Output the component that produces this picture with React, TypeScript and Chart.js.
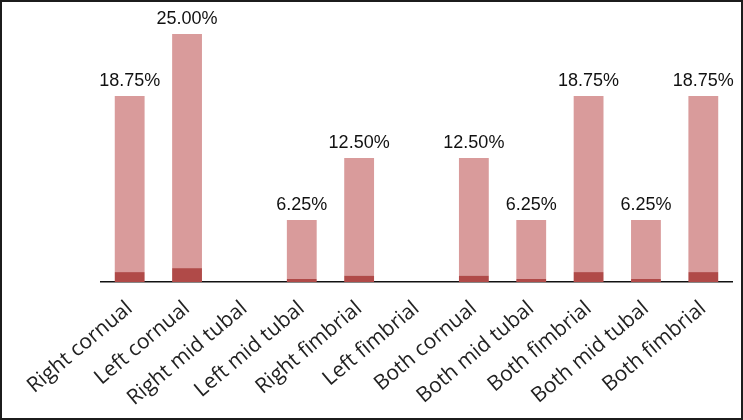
import React, { useEffect, useRef } from "react";
import { Chart, registerables } from "chart.js";

Chart.register(...registerables);

const categories = [
  "Right cornual",
  "Left cornual",
  "Right mid tubal",
  "Left mid tubal",
  "Right fimbrial",
  "Left fimbrial",
  "Both cornual",
  "Both mid tubal",
  "Both fimbrial",
  "Both mid tubal",
  "Both fimbrial",
];

// total percentage of each bar (shown as label)
const totalValues = [18.75, 25.0, 0, 6.25, 12.5, 0, 12.5, 6.25, 18.75, 6.25, 18.75];
// dark base segment of each bar
const baseValues = [1.0, 1.4, 0, 0.3, 0.65, 0, 0.65, 0.3, 1.0, 0.3, 1.0];

const LIGHT = "#D99B9B";
const DARK = "#B04A48";

const valueLabels = {
  id: "valueLabels",
  afterDatasetsDraw(chart: any) {
    const ctx = chart.ctx;
    const meta = chart.getDatasetMeta(chart.data.datasets.length - 1);
    ctx.save();
    ctx.font = "18px 'Liberation Sans', Arial, sans-serif";
    ctx.fillStyle = "#111";
    ctx.textAlign = "center";
    ctx.textBaseline = "alphabetic";
    meta.data.forEach((el: any, i: number) => {
      const v = totalValues[i];
      if (!v) return;
      ctx.fillText(v.toFixed(2) + "%", el.x, el.y - 10);
    });
    ctx.restore();
  },
};

export default function App() {
  const ref = useRef<HTMLCanvasElement>(null);

  useEffect(() => {
    document.body.style.margin = "0";
    if (!ref.current) return;
    const chart = new Chart(ref.current, {
      type: "bar",
      data: {
        labels: categories,
        datasets: [
          {
            label: "base",
            data: baseValues,
            backgroundColor: DARK,
            borderWidth: 0,
            barPercentage: 0.52,
            categoryPercentage: 1,
          },
          {
            label: "rest",
            data: totalValues.map((t, i) => t - baseValues[i]),
            backgroundColor: LIGHT,
            borderWidth: 0,
            barPercentage: 0.52,
            categoryPercentage: 1,
          },
        ],
      },
      options: {
        animation: false,
        responsive: false,
        layout: { padding: { top: 32, right: 9, left: 99, bottom: 0 } },
        plugins: {
          legend: { display: false },
          tooltip: { enabled: false },
        },
        scales: {
          x: {
            stacked: true,
            grid: { display: false, drawTicks: false },
            border: { display: true, color: "#111", width: 1.5 },
            afterFit: (scale: any) => {
              scale.height = 136;
            },
            ticks: {
              autoSkip: false,
              minRotation: 40,
              maxRotation: 40,
              color: "#222",
              padding: 14,
              font: { family: "'Open Sans', sans-serif", size: 21 },
            },
          },
          y: {
            stacked: true,
            display: false,
            min: 0,
            max: 25,
          },
        },
      },
      plugins: [valueLabels],
    });
    return () => chart.destroy();
  }, []);

  return (
    <div
      style={{
        width: 743,
        height: 420,
        border: "2px solid #1c1c1c",
        boxSizing: "border-box",
        background: "#fff",
      }}
    >
      <canvas ref={ref} width={739} height={416} style={{ display: "block" }} />
    </div>
  );
}
